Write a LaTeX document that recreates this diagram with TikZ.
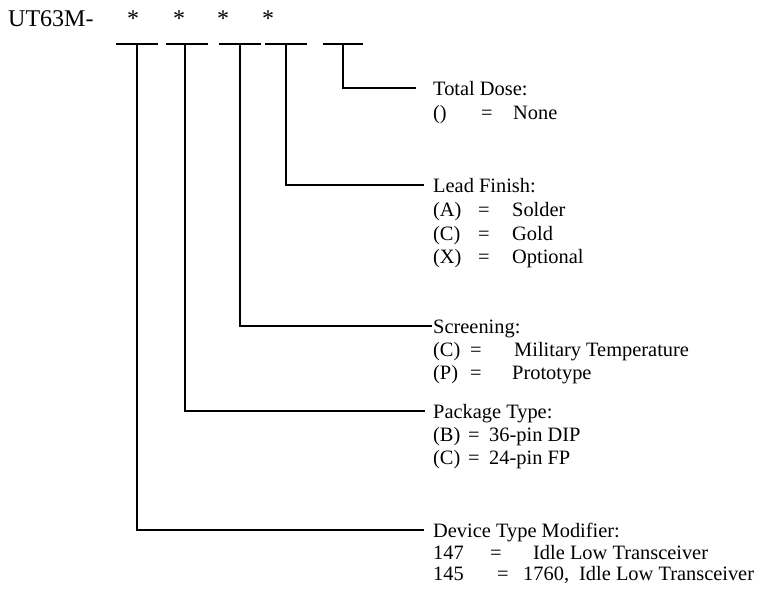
\documentclass[tikz,border=0pt]{standalone}
\usepackage{fontspec}
\setmainfont{Liberation Serif}
\begin{document}
\begin{tikzpicture}[x=1pt,y=-1pt,
  txt/.style={anchor=base west, inner sep=0pt, font=\fontsize{20.4}{22}\selectfont},
  big/.style={anchor=base west, inner sep=0pt, font=\fontsize{24}{26}\selectfont},
  star/.style={anchor=base, inner sep=0pt, font=\fontsize{24}{26}\selectfont},
  bar/.style={line width=1.6pt},
  wire/.style={line width=1.6pt}]
\useasboundingbox (0,0) rectangle (766,589);
% part number
\node[big] (pn) at (8,27) {UT63M-};
\node[star] (s1) at (133,27) {*};
\node[star] (s2) at (179,27) {*};
\node[star] (s3) at (223,27) {*};
\node[star] (s4) at (268,27) {*};
% underscores
\coordinate (u1) at (137,44);
\coordinate (u2) at (187,44);
\coordinate (u3) at (240,44);
\coordinate (u4) at (286,44);
\coordinate (u5) at (343,44);
\draw[bar] ([xshift=-21pt]u1) -- ([xshift=21pt]u1);
\draw[bar] ([xshift=-21pt]u2) -- ([xshift=21pt]u2);
\draw[bar] ([xshift=-21pt]u3) -- ([xshift=21pt]u3);
\draw[bar] ([xshift=-21pt]u4) -- ([xshift=21pt]u4);
\draw[bar] ([xshift=-20pt]u5) -- ([xshift=20pt]u5);
% line ends
\coordinate (e5) at (416,88);
\coordinate (e4) at (424,185);
\coordinate (e3) at (432,326);
\coordinate (e2) at (425,411);
\coordinate (e1) at (424,530);
\draw[wire] (u5) |- (e5);
\draw[wire] (u4) |- (e4);
\draw[wire] (u3) |- (e3);
\draw[wire] ([xshift=-2pt]u2) |- (e2);
\draw[wire] (u1) |- (e1);
% Total Dose
\node[txt] (td) at (433,95) {Total Dose:};
\node[txt] (tdc) at (433,119) {()};
\node[txt] (tde) at (481,119) {=};
\node[txt] (tdv) at (513,119) {None};
% Lead Finish
\node[txt] (lf) at (433,192) {Lead Finish:};
\node[txt] (lfa) at (433,216) {(A)};
\node[txt] (lfae) at (478,216) {=};
\node[txt] (lfav) at (512,216) {Solder};
\node[txt] (lfc) at (433,240) {(C)};
\node[txt] (lfce) at (478,240) {=};
\node[txt] (lfcv) at (512,240) {Gold};
\node[txt] (lfx) at (433,263) {(X)};
\node[txt] (lfxe) at (478,263) {=};
\node[txt] (lfxv) at (512,263) {Optional};
% Screening
\node[txt] (sc) at (433,333) {Screening:};
\node[txt] (scc) at (433,356) {(C)};
\node[txt] (scce) at (470,356) {=};
\node[txt] (sccv) at (514,356) {Military Temperature};
\node[txt] (scp) at (433,379) {(P)};
\node[txt] (scpe) at (470,379) {=};
\node[txt] (scpv) at (512,379) {Prototype};
% Package Type
\node[txt] (pt) at (433,418) {Package Type:};
\node[txt] (ptb) at (433,441) {(B)};
\node[txt] (ptbe) at (468,441) {=};
\node[txt] (ptbv) at (489,441) {36-pin DIP};
\node[txt] (ptc) at (433,464) {(C)};
\node[txt] (ptce) at (468,464) {=};
\node[txt] (ptcv) at (489,464) {24-pin FP};
% Device Type Modifier
\node[txt] (dt) at (433,537) {Device Type Modifier:};
\node[txt] (d1) at (433,559) {147};
\node[txt] (d1e) at (490,559) {=};
\node[txt] (d1v) at (533,559) {Idle Low Transceiver};
\node[txt] (d2) at (433,580) {145};
\node[txt] (d2e) at (497,580) {=};
\node[txt] (d2v) at (523,580) {1760,\hspace{5pt} Idle Low Transceiver};
\end{tikzpicture}
\end{document}
